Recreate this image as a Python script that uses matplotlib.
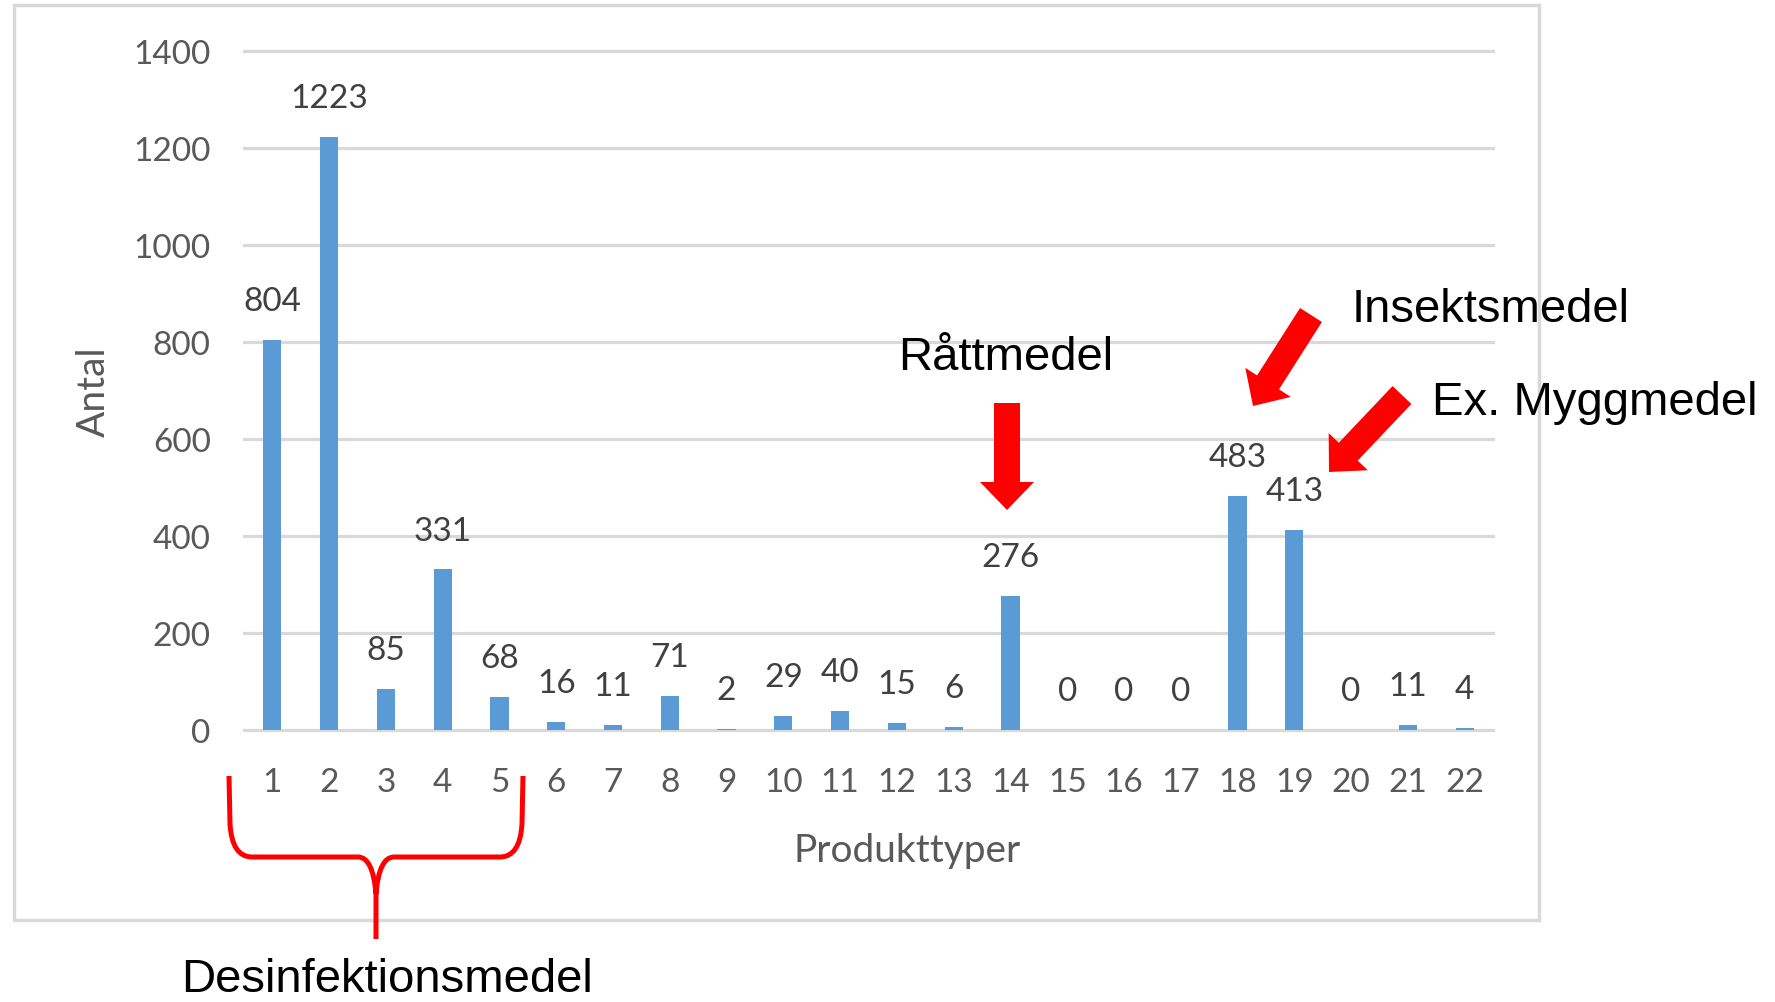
import matplotlib
matplotlib.use("Agg")
import matplotlib.pyplot as plt
from matplotlib.patches import FancyArrow, Rectangle, PathPatch
from matplotlib.path import Path

# data
product_types = [str(i) for i in range(1, 23)]
counts = [804, 1223, 85, 331, 68, 16, 11, 71, 2, 29, 40, 15, 6, 276,
          0, 0, 0, 483, 413, 0, 11, 4]
y_ticks = [0, 200, 400, 600, 800, 1000, 1200, 1400]

BAR = "#5b9bd5"
GRID = "#d9d9d9"
TICK = "#595959"
LABEL = "#404040"
CHART_FONT = ["Lato", "DejaVu Sans"]
NOTE_FONT = ["Liberation Sans", "DejaVu Sans"]

W, H = 1775, 1003
fig = plt.figure(figsize=(W / 100, H / 100), dpi=100)
fig.patch.set_facecolor("white")

# main chart area (pixel edges)
ax = fig.add_axes([244 / W, 1 - 731 / H, (1493 - 244) / W, (731 - 52) / H])
x = list(range(1, len(counts) + 1))
ax.bar(x, counts, width=0.32, color=BAR, zorder=3)

for xi, v in zip(x, counts):
    ax.annotate(str(v), (xi, v), xytext=(0, 21.5), textcoords="offset points",
                ha="center", va="baseline", fontsize=24, color=LABEL,
                family=CHART_FONT)

ax.set_xlim(0.5, len(counts) + 0.5)
ax.set_ylim(0, 1400)
ax.set_yticks(y_ticks)
ax.set_xticks(x)
ax.set_xticklabels(product_types)
ax.tick_params(axis="both", length=0, labelsize=24, labelcolor=TICK)
ax.tick_params(axis="y", pad=24)
ax.tick_params(axis="x", pad=27)
for lab in ax.get_xticklabels() + ax.get_yticklabels():
    lab.set_family(CHART_FONT)

ax.grid(axis="y", color=GRID, linewidth=2.3, zorder=0)
for gl in ax.get_ygridlines():
    gl.set_clip_on(False)
for s in ax.spines.values():
    s.set_visible(False)

fig.text(94 / W, 1 - 392 / H, "Antal", rotation=90, ha="center", va="center",
         fontsize=28, color=TICK, family=CHART_FONT)
fig.text(907 / W, 1 - 862 / H, "Produkttyper", ha="center", va="baseline",
         fontsize=28, color=TICK, family=CHART_FONT)

# overlay in pixel coordinates for the frame and the red call-outs
ov = fig.add_axes([0, 0, 1, 1], zorder=5)
ov.set_xlim(0, W)
ov.set_ylim(H, 0)
ov.axis("off")
ov.patch.set_alpha(0)

ov.add_patch(Rectangle((14, 5.5), 1525, 915.5, fill=False, edgecolor=GRID,
                       linewidth=2.5))

arrows = [
    ((1007, 404), (1007, 511)),   # Råttmedel
    ((1311, 316), (1253, 407)),   # Insektsmedel
    ((1402, 396), (1329, 473)),   # Ex. Myggmedel
]
for (x0, y0), (x1, y1) in arrows:
    ov.add_patch(FancyArrow(x0, y0, x1 - x0, y1 - y0, width=26,
                            head_width=54, head_length=28,
                            length_includes_head=True, color="red", lw=0))

# curly brace under categories 1-5
verts = [(229, 777), (230, 825), (232, 858), (252, 858), (358, 858),
         (373, 858), (376, 895), (376, 940),
         (376, 895), (379, 858), (394, 858), (500, 858), (520, 858),
         (522, 825), (523, 777)]
codes = [Path.MOVETO, Path.LINETO, Path.CURVE3, Path.CURVE3, Path.LINETO,
         Path.CURVE3, Path.CURVE3, Path.LINETO,
         Path.MOVETO, Path.CURVE3, Path.CURVE3, Path.LINETO, Path.CURVE3,
         Path.CURVE3, Path.LINETO]
ov.add_patch(PathPatch(Path(verts, codes), fill=False, edgecolor="red",
                       linewidth=3.6, capstyle="butt"))

note_kw = dict(fontsize=34, color="black", family=NOTE_FONT, va="baseline")
ov.text(898, 370, "Råttmedel", ha="left", **note_kw)
ov.text(1352, 322, "Insektsmedel", ha="left", **note_kw)
ov.text(1432, 415, "Ex. Myggmedel", ha="left", **note_kw)
ov.text(387, 992, "Desinfektionsmedel", ha="center", **note_kw)

fig.savefig("out.png", dpi=100)
